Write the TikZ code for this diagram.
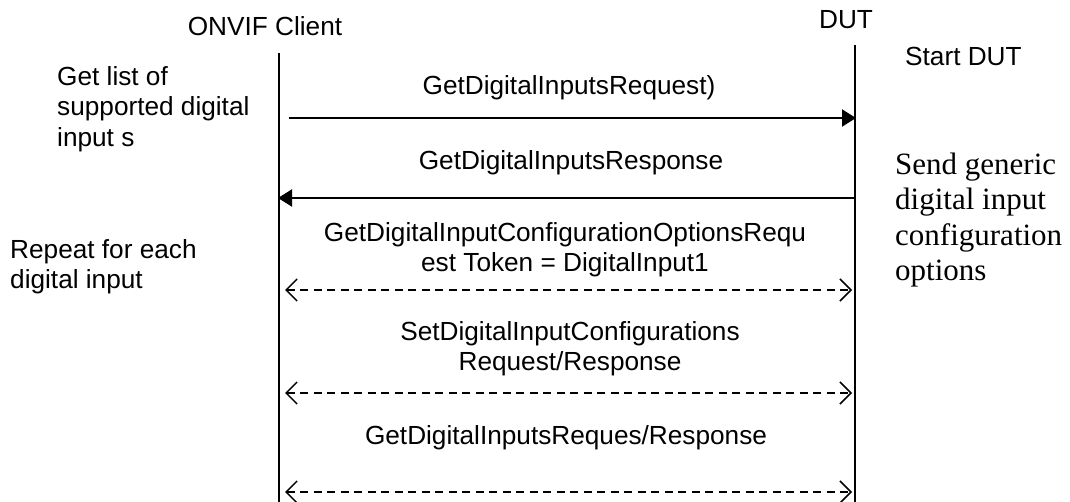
\documentclass[tikz,border=0pt]{standalone}
\usepackage{fontspec}
\setmainfont{Liberation Sans}
\newfontfamily\notefont{Liberation Serif}
\usetikzlibrary{arrows.meta}
\begin{document}
\begin{tikzpicture}[
        x=1pt, y=-1pt,
        every node/.style={inner sep=0pt, font=\fontsize{26.2}{30.4}\selectfont},
        msg/.style={align=center},
        note/.style={align=left, anchor=west},
        lifeline/.style={line width=2pt},
        call/.style={line width=2pt, -{Triangle[length=14pt, width=17pt]}},
        loopcall/.style={line width=1.5pt, dash pattern=on 8pt off 5.5pt,
            {Straight Barb[length=11pt, width=22pt, line width=1.5pt]}-{Straight Barb[length=11pt, width=22pt, line width=1.5pt]}},
        ]
        \useasboundingbox (0,0) rectangle (1070,502);

        \node (client) at (265,26) {ONVIF Client};
        \node (dut) at (846,20) {DUT};

        \coordinate (clienttop) at (279,53);
        \coordinate (clientbot) at (279,502);
        \coordinate (duttop) at (855,45);
        \coordinate (dutbot) at (855,502);
        \draw[lifeline] (clienttop) -- (clientbot);
        \draw[lifeline] (duttop) -- (dutbot);

        \node[note] (listnote) at (57,109) {Get list of\\supported digital\\input s};
        \node[note] (repeatnote) at (10,267) {Repeat for each\\digital input};
        \node[note] (startnote) at (905,56) {Start DUT};
        \node[note, font=\notefont\fontsize{31}{35.5}\selectfont] (sendnote) at (895,220)
            {Send generic\\digital input\\configuration\\options};

        \node[msg] (reqlabel) at (569,88) {GetDigitalInputsRequest)};
        \node[msg] (resplabel) at (571,163) {GetDigitalInputsResponse};
        \node[msg] (optlabel) at (565,250) {GetDigitalInputConfigurationOptionsRequ\\est Token = DigitalInput1};
        \node[msg] (setlabel) at (570,349) {SetDigitalInputConfigurations\\Request/Response};
        \node[msg] (getlabel) at (566,438) {GetDigitalInputsReques/Response};

        \coordinate (reqa) at (289,118);
        \coordinate (reqb) at (856,118);
        \coordinate (respa) at (855,198);
        \coordinate (respb) at (278,198);
        \coordinate (opta) at (285,290);
        \coordinate (optb) at (852,290);
        \coordinate (seta) at (285,393);
        \coordinate (setb) at (852,393);
        \coordinate (geta) at (285,492);
        \coordinate (getb) at (852,492);

        \draw[call] (reqa) -- (reqb);
        \draw[call] (respa) -- (respb);
        \draw[loopcall] (opta) -- (optb);
        \draw[loopcall] (seta) -- (setb);
        \draw[loopcall] (geta) -- (getb);

    \end{tikzpicture}
\end{document}
